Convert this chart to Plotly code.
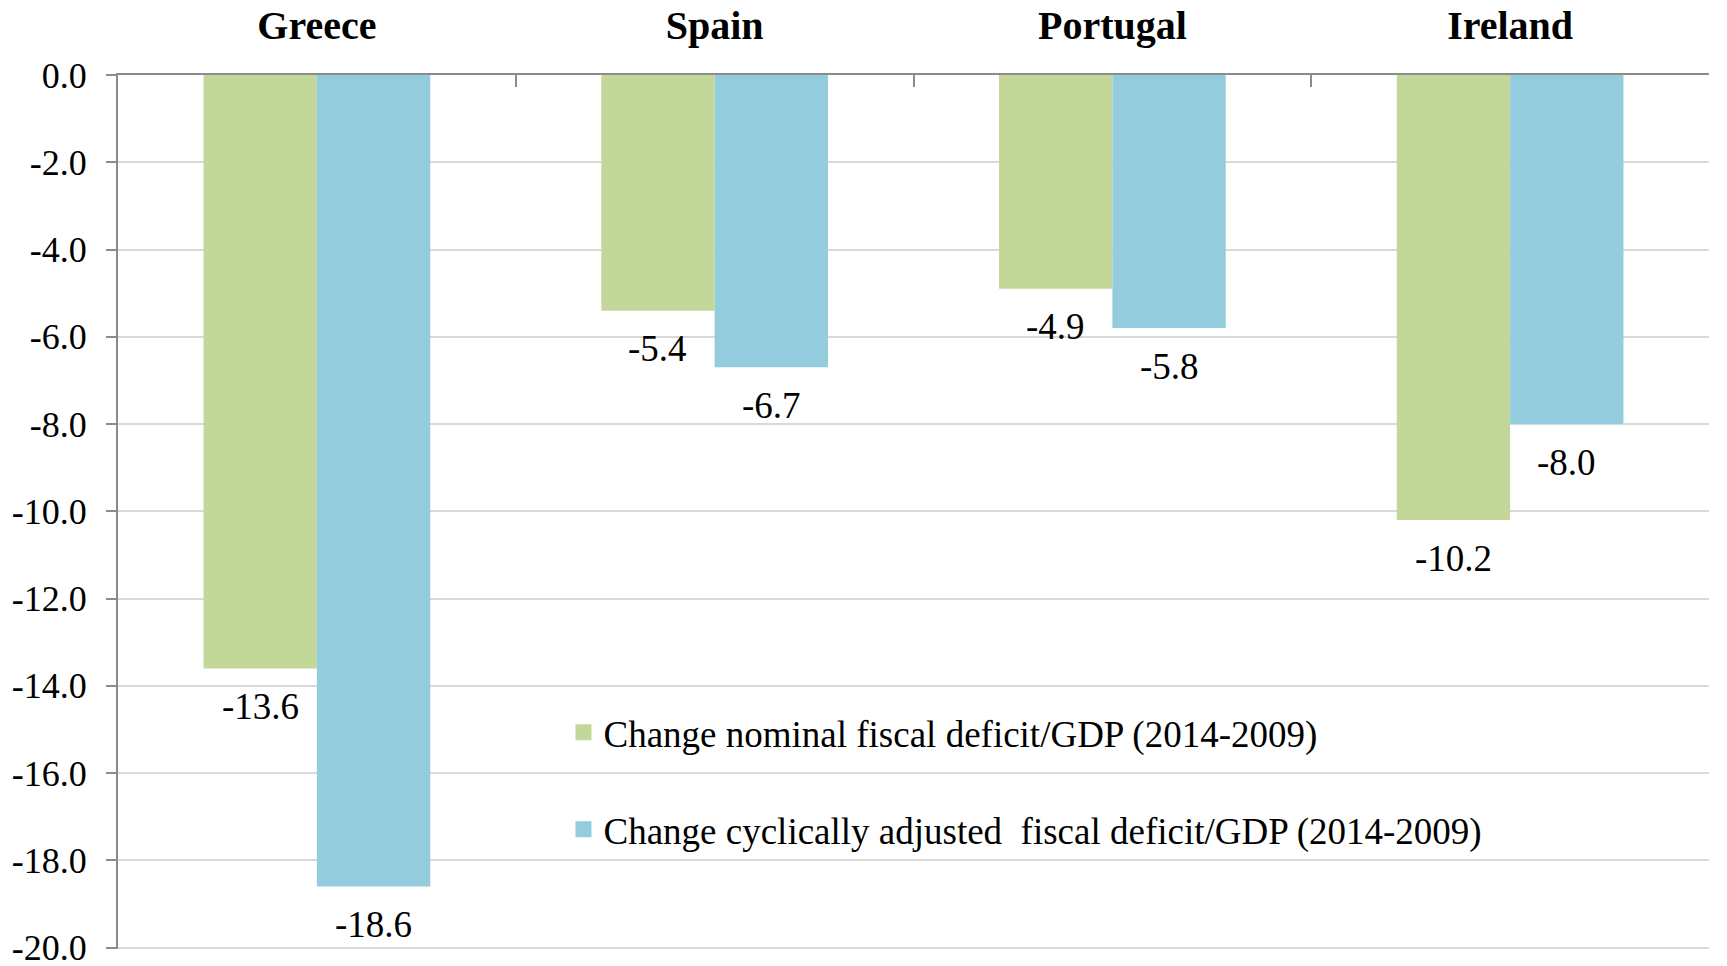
import plotly.graph_objects as go

countries = ["Greece", "Spain", "Portugal", "Ireland"]
nominal = [-13.6, -5.4, -4.9, -10.2]
cyclical = [-18.6, -6.7, -5.8, -8.0]
series_names = [
    "Change nominal fiscal deficit/GDP (2014-2009)",
    "Change cyclically adjusted  fiscal deficit/GDP (2014-2009)",
]
y_ticks = [0, -2, -4, -6, -8, -10, -12, -14, -16, -18, -20]
y_ticktext = [f"{v:.1f}" for v in y_ticks]

GREEN = "#C4D79B"
BLUE = "#93CDDD"
FONT = "Liberation Serif, Times New Roman, serif"
BARGAP = 0.43
colors = [GREEN, BLUE]

fig = go.Figure()
for vals, col in zip([nominal, cyclical], colors):
    fig.add_trace(go.Bar(x=countries, y=vals, marker=dict(color=col, line=dict(width=0)),
                         showlegend=False))

# legend entries (square swatches)
for i, (nm, col) in enumerate(zip(series_names, colors)):
    fig.add_trace(go.Scatter(x=[None], y=[None], mode="markers", name=nm,
                             marker=dict(symbol="square", size=18, color=col),
                             legendgroup=f"g{i}", showlegend=True))

# data labels below bar ends
half = (1 - BARGAP) / 4
annots = []
for i, (a, b) in enumerate(zip(nominal, cyclical)):
    for off, v in ((-half, a), (half, b)):
        annots.append(dict(x=i + off, y=v, xref="x", yref="y",
                           text=f"{v:.1f}", showarrow=False,
                           yanchor="middle", yshift=-38,
                           font=dict(family=FONT, size=37, color="#000")))

fig.update_layout(
    width=1727, height=966,
    margin=dict(l=110, r=26, t=67, b=25),
    paper_bgcolor="white", plot_bgcolor="white",
    barmode="group", bargap=BARGAP, bargroupgap=0,
    font=dict(family=FONT, color="#000"),
    annotations=annots,
    showlegend=True,
    legend=dict(x=0.28, y=0.283, xanchor="left", yanchor="top",
                bgcolor="rgba(0,0,0,0)", font=dict(family=FONT, size=37, color="#000"),
                tracegroupgap=46, itemwidth=30, traceorder="grouped"),
)
fig.update_xaxes(
    side="top", type="category", automargin=False,
    showline=True, linecolor="#8c8c8c", linewidth=2,
    ticks="inside", tickson="boundaries", ticklen=12, tickcolor="#8c8c8c", tickwidth=2,
    ticklabelstandoff=18,
    tickfont=dict(family=FONT, size=40, color="#000", weight="bold"),
    showgrid=False,
)
fig.update_yaxes(
    range=[-20.03, 0], tickvals=y_ticks, ticktext=y_ticktext, automargin=False,
    ticklabeloverflow="allow",
    showline=True, linecolor="#8c8c8c", linewidth=2,
    ticks="outside", ticklen=10, tickcolor="#8c8c8c", tickwidth=2,
    ticklabelstandoff=12,
    showgrid=True, gridcolor="#d9d9d9", gridwidth=2,
    zeroline=False,
    tickfont=dict(family=FONT, size=36, color="#000"),
)

fig.write_html("out.html")
